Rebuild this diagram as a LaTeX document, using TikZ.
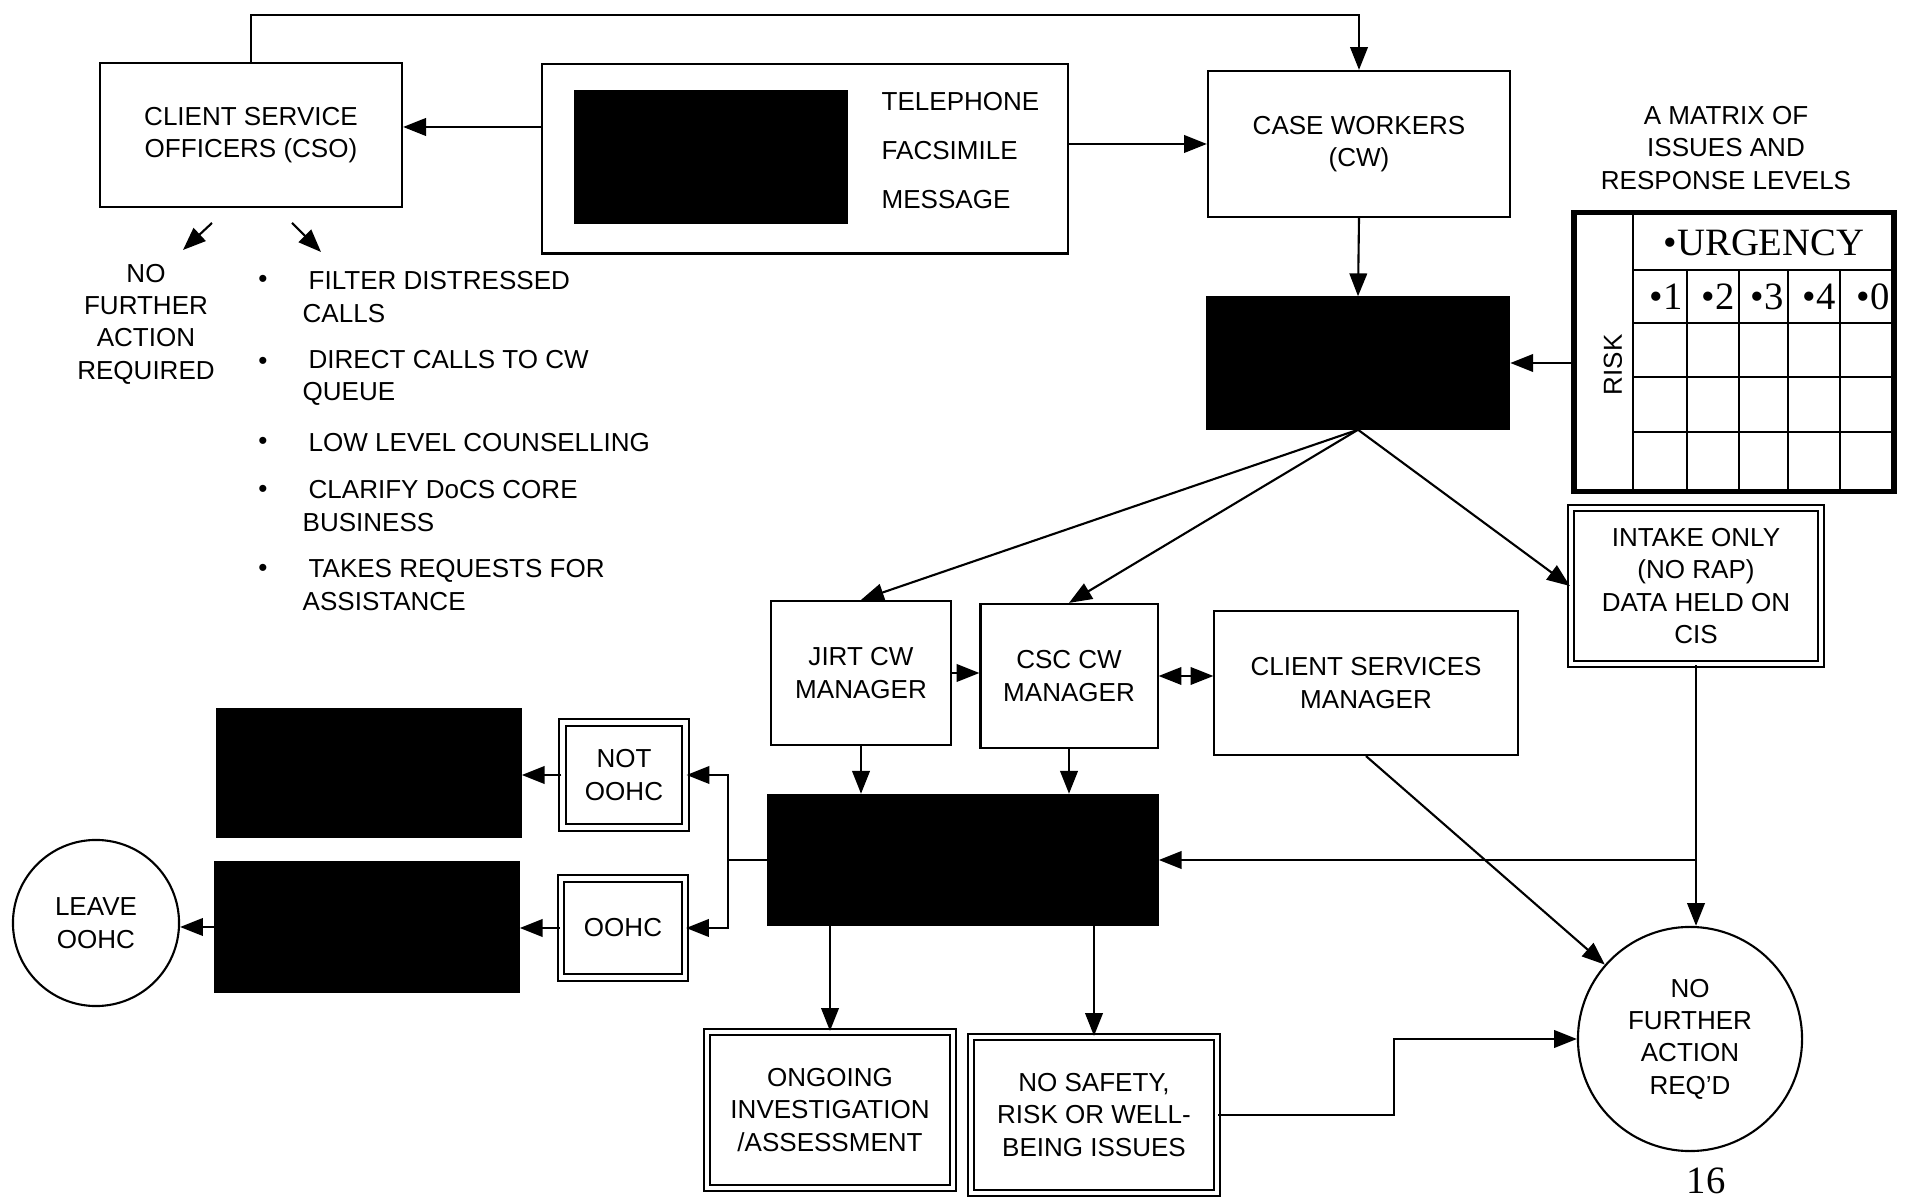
\documentclass[tikz,border=0pt]{standalone}
\usepackage{fontspec}
\setmainfont{Liberation Sans}
\newfontfamily\serifface{Liberation Serif}
\usetikzlibrary{arrows.meta,calc,positioning}

\tikzset{
  box/.style={draw, line width=0.6pt, align=center, inner sep=0pt},
  dbox/.style={draw, double, line width=0.6pt, double distance=1.2pt, align=center, inner sep=0pt},
  blk/.style={draw, fill=black, inner sep=0pt},
  endcirc/.style={draw, circle, line width=0.6pt, align=center, inner sep=0pt},
  arr/.style={-{Triangle[length=6.5pt,width=5pt]}, line width=0.6pt},
  darr/.style={{Triangle[length=6.5pt,width=5pt]}-{Triangle[length=6.5pt,width=5pt]}, line width=0.6pt},
  txt/.style={inner sep=0pt, align=left, anchor=west},
}

\begin{document}
\begin{tikzpicture}[x=0.01cm, y=-0.01cm, font=\fontsize{7.4}{9.2}\selectfont]
\useasboundingbox (0,0) rectangle (1909,1198);

% intake
\node[box, minimum width=3.02cm, minimum height=1.44cm] (cso) at (251,135) {CLIENT SERVICE\\OFFICERS (CSO)};
\node[box, minimum width=5.25cm, minimum height=1.89cm] (tel) at (805,159) {};
\node[blk, minimum width=2.72cm, minimum height=1.32cm] (telblk) at (711,157) {};
\node[txt] (phone) at (881,102) {TELEPHONE};
\node[txt] (fax) at (881,151) {FACSIMILE};
\node[txt] (msg) at (881,200) {MESSAGE};
\node[box, minimum width=3.02cm, minimum height=1.46cm] (cw) at (1359,144) {CASE WORKERS\\(CW)};
\node[blk, minimum width=3.03cm, minimum height=1.32cm] (blk1) at (1358,363) {};

% matrix
\node[align=center] (mtitle) at (1726,148) {A MATRIX OF\\ISSUES AND\\RESPONSE LEVELS};
\node[draw, line width=1.5pt, minimum width=3.2cm, minimum height=2.79cm] (mat) at (1734,352) {};
\draw[line width=0.6pt] (1633,213) -- (1633,492);
\draw[line width=0.6pt] (1633,270) -- (1894,270);
\foreach \y in {323,377,432}
  \draw[line width=0.6pt] (1633,\y) -- (1894,\y);
\foreach \x in {1687,1739,1788,1840}
  \draw[line width=0.6pt] (\x,270) -- (\x,492);
\node[font=\serifface\fontsize{11}{13}\selectfont] (urg) at (1764,243) {•URGENCY};
\foreach \x/\d in {1687/1,1739/2,1788/3,1840/4,1894/0}
  \node[anchor=east, inner sep=1pt, font=\serifface\fontsize{11}{13}\selectfont] at (\x,297) {•\d};
\node[rotate=90] (risk) at (1613,365) {RISK};

% CSO tasks
\coordinate (c1) at (212,223);
\coordinate (c2) at (183,250);
\coordinate (c3) at (292,223);
\coordinate (c4) at (321,252);
\node[align=center] (nfrtxt) at (146,324) {NO\\FURTHER\\ACTION\\REQUIRED};
\node (b1) at (263,281) {\textbullet};
\node (b2) at (263,363) {\textbullet};
\node (b3) at (263,443) {\textbullet};
\node (b4) at (263,491) {\textbullet};
\node (b5) at (263,570) {\textbullet};
\node[txt] (i1) at (302,297) {\hspace*{1.7pt}FILTER DISTRESSED\\CALLS};
\node[txt] (i2) at (302,378) {\hspace*{1.7pt}DIRECT CALLS TO CW\\QUEUE};
\node[txt] (i3) at (302,443) {\hspace*{1.7pt}LOW LEVEL COUNSELLING};
\node[txt] (i4) at (302,506) {\hspace*{1.7pt}CLARIFY DoCS CORE\\BUSINESS};
\node[txt] (i5) at (302,585) {\hspace*{1.7pt}TAKES REQUESTS FOR\\ASSISTANCE};

% managers
\node[dbox, minimum width=2.5cm, minimum height=1.56cm] (intake) at (1696,586) {INTAKE ONLY\\(NO RAP)\\DATA HELD ON\\CIS};
\node[box, minimum width=1.8cm, minimum height=1.44cm] (jirt) at (861,673) {JIRT CW\\MANAGER};
\node[box, minimum width=1.77cm, minimum height=1.44cm] (csc) at (1069,676) {CSC CW\\MANAGER};
\node[box, minimum width=3.03cm, minimum height=1.44cm] (csm) at (1366,683) {CLIENT SERVICES\\MANAGER};
\node[endcirc, minimum size=2.24cm] (nfa) at (1690,1039) {NO\\FURTHER\\ACTION\\REQ'D};
\node[blk, minimum width=3.9cm, minimum height=1.31cm] (blk2) at (963,860) {};

% outcomes
\node[dbox, minimum width=1.23cm, minimum height=1.05cm] (notoohc) at (624,775) {NOT\\OOHC};
\node[dbox, minimum width=1.24cm, minimum height=0.99cm] (oohc) at (623,928) {OOHC};
\node[blk, minimum width=3.04cm, minimum height=1.29cm] (blk3) at (369,773) {};
\node[blk, minimum width=3.04cm, minimum height=1.3cm] (blk4) at (367,927) {};
\node[endcirc, minimum size=1.66cm] (leave) at (96,923) {LEAVE\\OOHC};
\node[dbox, minimum width=2.46cm, minimum height=1.56cm] (ongoing) at (830,1110) {ONGOING\\INVESTIGATION\\/ASSESSMENT};
\node[dbox, minimum width=2.46cm, minimum height=1.56cm] (nosafe) at (1094,1115) {NO SAFETY,\\RISK OR WELL-\\BEING ISSUES};
\node[font=\serifface\fontsize{11}{13}\selectfont] (pg) at (1706,1181) {16};

% connectors
\draw[arr] ([yshift=0.08cm]tel.west |- cso.east) -- ([yshift=0.08cm]cso.east);
\draw[arr] (tel.east |- cw.west) -- (cw.west);
\draw[arr] (cso.north) -- ++(0,-47) -| (cw.north);
\draw[arr] (c1) -- (c2);
\draw[arr] (c3) -- (c4);
\draw[arr] (cw.south) -- (blk1.north);
\draw[arr] (mat.west |- blk1.east) -- (blk1.east);
\draw[arr] (blk1.south) -- (jirt.north);
\draw[arr] (blk1.south) -- (csc.north);
\draw[arr] (blk1.south) -- (intake.west);
\draw[arr] (jirt.east) -- (jirt.east -| csc.west);
\draw[darr] (csc.east) -- (csc.east -| csm.west);
\draw[arr] (csm.south) -- (nfa);
\draw[arr] (intake.south) -- (intake.south |- nfa.north);
\coordinate (j1) at (intake.south |- blk2.east);
\draw[arr] (j1) -- (blk2.east);
\draw[arr] (jirt.south) -- (jirt.south |- blk2.north);
\draw[arr] (csc.south) -- (csc.south |- blk2.north);
\coordinate (split) at (728,860);
\draw[line width=0.6pt] (blk2.west) -- (split);
\draw[arr] (split) |- (notoohc.east);
\draw[arr] (split) |- (oohc.east);
\draw[arr] (notoohc.west) -- (notoohc.west -| blk3.east);
\draw[arr] (oohc.west) -- (oohc.west -| blk4.east);
\draw[arr] (blk4.west) -- (blk4.west -| leave.east);
\draw[arr] (ongoing.north |- blk2.south) -- (ongoing.north);
\draw[arr] (nosafe.north |- blk2.south) -- (nosafe.north);
\draw[arr] (nosafe.east) -- ++(176,0) |- (nfa.west);
\end{tikzpicture}
\end{document}
